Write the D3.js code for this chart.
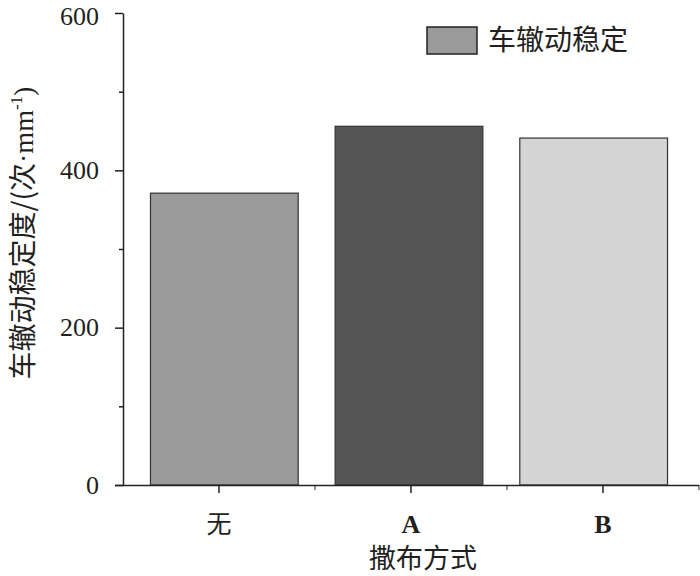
<!DOCTYPE html>
<meta charset="utf-8">
<body style="margin:0;background:#fff">
<script src="https://cdn.jsdelivr.net/npm/d3@7/dist/d3.min.js"></script>
<script>

    var width = 700,
        height = 576;

    // 数据
    var categories = ["无", "A", "B"];
    var values = [371, 456, 441];
    var barColors = ["#9a9b9a", "#555555", "#d4d4d4"];
    var yMajorTicks = [0, 200, 400, 600];
    var yMinorTicks = [100, 300, 500];
    var legendLabel = "车辙动稳定";

    var svg = d3.select("body").append("svg")
            .attr("width", width)
            .attr("height", height);

    //坐标轴刻度用的比例尺
    var x = d3.scaleBand()
            .domain(categories)
            .range([123, 699]);

    //柱子用的比例尺(原图柱子与刻度略有偏差)
    var xBar = d3.scaleBand()
            .domain(categories)
            .range([132, 686])
            .paddingInner(0.2)
            .paddingOuter(0.1);

    var y = d3.scaleLinear()
            .domain([0, 600])
            .range([485, 13]);

    var serif = "'Liberation Serif', 'DejaVu Serif', serif";
    var cjk = "'Noto Sans CJK SC', sans-serif";

    //柱子
    svg.selectAll("rect.bar")
            .data(values)
            .enter().append("rect")
            .attr("class", "bar")
            .attr("x", function(d, i) { return xBar(categories[i]); })
            .attr("y", function(d) { return y(d); })
            .attr("width", xBar.bandwidth())
            .attr("height", function(d) { return y(0) - y(d); })
            .attr("fill", function(d, i) { return barColors[i]; })
            .attr("stroke", "#3a3030")
            .attr("stroke-width", 1.2);

    //y轴
    var yAxis = svg.append("g")
            .attr("transform", "translate(123,0)")
            .call(d3.axisLeft(y).tickValues(yMajorTicks).tickSize(8).tickPadding(16).tickSizeOuter(0));
    svg.append("g")
            .attr("transform", "translate(123,0)")
            .call(d3.axisLeft(y).tickValues(yMinorTicks).tickSize(4).tickFormat("").tickSizeOuter(0))
            .select(".domain").remove();

    //x轴
    var xAxis = svg.append("g")
            .attr("transform", "translate(0,485)")
            .call(d3.axisBottom(x).tickSize(8).tickPadding(22).tickSizeOuter(0));
    xAxis.select(".domain").attr("d", "M115,0.5H699");
    var bounds = d3.range(1, categories.length + 1).map(function(k) { return x.range()[0] + k * x.step(); });
    svg.append("g")
            .attr("transform", "translate(0,485)")
            .selectAll("line")
            .data(bounds)
            .enter().append("line")
            .attr("x1", function(d) { return d; })
            .attr("x2", function(d) { return d; })
            .attr("y1", 0)
            .attr("y2", 5)
            .attr("stroke", "#222");

    svg.selectAll(".domain, .tick line").attr("stroke", "#222").attr("stroke-width", 1.5);

    yAxis.selectAll("text")
            .style("font-family", serif)
            .style("font-size", "26px")
            .attr("fill", "#231f20")
            .attr("y", function(d) { return d === 600 ? 3 : 0; });
    xAxis.selectAll("text")
            .style("font-family", function(d) { return d === "无" ? cjk : serif; })
            .style("font-size", function(d) { return d === "无" ? "25px" : "26px"; })
            .style("font-weight", function(d) { return d === "无" ? "normal" : "bold"; })
            .attr("fill", "#231f20");

    //坐标轴标题
    svg.append("text")
            .attr("x", 423)
            .attr("y", 568)
            .attr("text-anchor", "middle")
            .style("font-family", cjk)
            .style("font-size", "27px")
            .attr("fill", "#231f20")
            .text("撒布方式");

    var yTitle = svg.append("text")
            .attr("transform", "translate(33,233) rotate(-90)")
            .attr("text-anchor", "middle")
            .style("font-family", cjk)
            .style("font-size", "28px")
            .attr("fill", "#231f20");
    yTitle.append("tspan").text("车辙动稳定度/(次");
    yTitle.append("tspan").style("font-family", serif).text("·mm");
    yTitle.append("tspan").style("font-family", serif).style("font-size", "17px").attr("dy", -11).text("-1");
    yTitle.append("tspan").style("font-family", serif).attr("dy", 11).text(")");

    //图例
    svg.append("rect")
            .attr("x", 427)
            .attr("y", 27)
            .attr("width", 50)
            .attr("height", 27)
            .attr("fill", barColors[0])
            .attr("stroke", "#222")
            .attr("stroke-width", 1.5);
    svg.append("text")
            .attr("x", 488)
            .attr("y", 40)
            .attr("dy", "0.35em")
            .style("font-family", cjk)
            .style("font-size", "28px")
            .attr("fill", "#231f20")
            .text(legendLabel);

</script>
